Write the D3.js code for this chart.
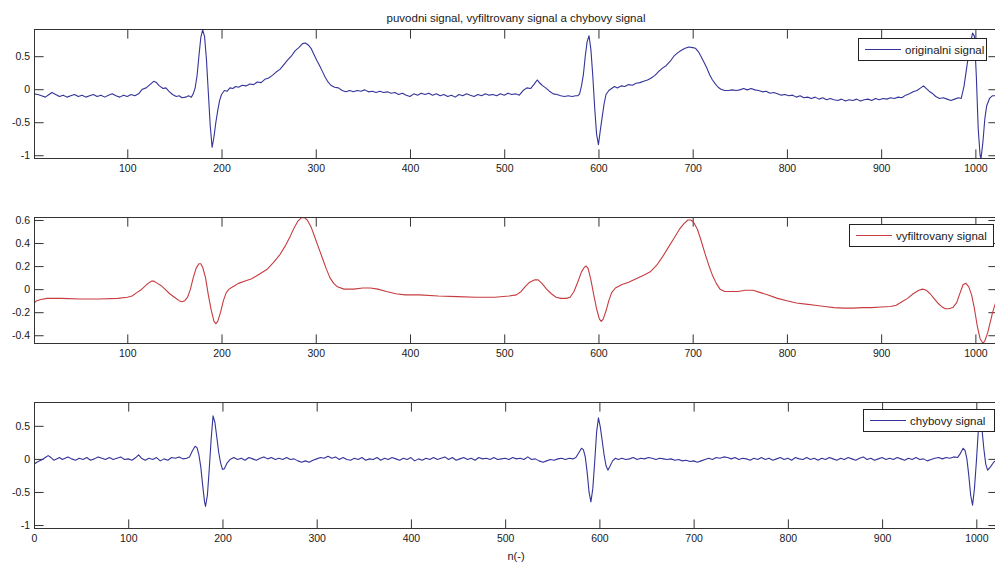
<!DOCTYPE html>
<html><head><meta charset="utf-8">
<script src="https://cdn.jsdelivr.net/npm/d3@7"></script>
<style>
body{margin:0;background:#fff}
svg{display:block}
text{font-family:Arial,"Liberation Sans",Helvetica,sans-serif;fill:#1a1a1a}
</style>
</head><body>
<svg id="chart" width="995" height="563"></svg>
<script>
// ---------------- data ----------------
const titleText = "puvodni signal, vyfiltrovany signal a chybovy signal";
const xLabelText = "n(-)";
const legendLabels = ["originalni signal", "vyfiltrovany signal", "chybovy signal"];
const xTicks = [100,200,300,400,500,600,700,800,900,1000];
const xTicksBottom = [0,100,200,300,400,500,600,700,800,900,1000];
const yTicksTop = [-1,-0.5,0,0.5];
const yTicksMid = [-0.4,-0.2,0,0.2,0.4,0.6];
const yTicksBot = [-1,-0.5,0,0.5];
const xLimTop = [1,1024];
const xLimBot = [0,1023];
const yLimTop = [-1.057,0.912];
const yLimMid = [-0.476,0.626];
const yLimBot = [-1.06,0.86];

// original signal (n, value)
const origN = [1,5,9,13,17,20,24,28,32,36,40,44,48,52,56,60,64,68,72,76,80,84,88,92,96,100,104,108,112,116,120,124,128,131,134,138,141,144,148,152,155,158,162,165,168,170,172,174,176,178,180,182,184,186,188,190,192,194,196,198,200,203,206,209,212,215,218,222,226,230,234,238,242,246,250,254,258,262,266,270,274,278,282,286,289,292,295,298,301,304,307,310,313,316,320,324,328,332,336,340,344,348,352,356,360,364,368,372,376,380,384,388,392,396,400,404,408,412,416,420,424,428,432,436,440,444,448,452,456,460,464,468,472,476,480,484,488,492,496,500,504,508,512,516,520,524,528,532,535,538,541,544,548,552,556,560,564,568,572,576,578,580,582,584,586,588,590,592,594,596,598,600,602,604,606,608,611,614,617,620,624,628,632,636,640,644,648,652,656,660,664,668,672,676,680,684,688,692,696,700,703,706,709,712,715,718,721,724,727,730,734,738,742,746,750,754,758,762,766,770,774,778,782,786,790,794,798,802,806,810,814,818,822,826,830,834,838,842,846,850,854,858,862,866,870,874,878,882,886,890,894,898,902,906,910,914,918,922,926,930,934,938,942,945,948,951,954,958,962,966,970,974,978,982,985,988,991,994,997,999,1001,1003,1005,1006,1008,1010,1012,1015,1018,1024];
const origV = [-0.07,-0.08,-0.10,-0.12,-0.08,-0.05,-0.08,-0.11,-0.09,-0.12,-0.10,-0.08,-0.11,-0.09,-0.12,-0.10,-0.08,-0.11,-0.09,-0.12,-0.09,-0.07,-0.10,-0.12,-0.09,-0.11,-0.08,-0.10,-0.07,0.00,0.02,0.07,0.12,0.10,0.05,0.01,0.02,-0.03,-0.08,-0.11,-0.10,-0.13,-0.12,-0.10,-0.12,-0.07,0.02,0.20,0.50,0.78,0.90,0.80,0.45,-0.05,-0.55,-0.88,-0.72,-0.50,-0.32,-0.17,-0.08,-0.02,-0.03,0.02,0.01,0.04,0.03,0.06,0.05,0.08,0.07,0.11,0.10,0.15,0.17,0.21,0.26,0.30,0.37,0.44,0.50,0.58,0.63,0.69,0.70,0.67,0.62,0.53,0.44,0.36,0.27,0.18,0.11,0.06,0.03,0.02,-0.02,-0.04,-0.02,-0.04,-0.02,-0.03,-0.01,-0.04,-0.03,-0.05,-0.03,-0.05,-0.04,-0.06,-0.05,-0.08,-0.06,-0.09,-0.11,-0.07,-0.09,-0.06,-0.08,-0.06,-0.09,-0.07,-0.10,-0.08,-0.11,-0.09,-0.12,-0.08,-0.10,-0.07,-0.09,-0.11,-0.08,-0.10,-0.07,-0.09,-0.08,-0.10,-0.07,-0.09,-0.06,-0.08,-0.07,-0.09,-0.02,0.02,0.01,0.08,0.14,0.09,0.05,0.02,-0.03,-0.07,-0.08,-0.10,-0.11,-0.10,-0.11,-0.10,-0.10,-0.07,0.05,0.22,0.50,0.72,0.81,0.60,0.20,-0.28,-0.68,-0.84,-0.62,-0.42,-0.22,-0.08,-0.02,0.01,0.04,0.02,0.05,0.04,0.07,0.06,0.09,0.10,0.12,0.14,0.17,0.21,0.27,0.32,0.36,0.42,0.50,0.55,0.59,0.62,0.64,0.63,0.62,0.57,0.49,0.41,0.32,0.22,0.14,0.08,0.03,0.00,-0.02,-0.02,-0.01,-0.02,-0.01,0.01,-0.01,0.01,-0.01,-0.02,-0.04,-0.03,-0.06,-0.05,-0.07,-0.09,-0.08,-0.10,-0.09,-0.12,-0.10,-0.13,-0.12,-0.14,-0.12,-0.15,-0.13,-0.16,-0.14,-0.16,-0.17,-0.15,-0.18,-0.16,-0.17,-0.15,-0.18,-0.16,-0.15,-0.17,-0.14,-0.16,-0.14,-0.15,-0.13,-0.14,-0.12,-0.13,-0.09,-0.07,-0.04,-0.02,0.02,0.05,0.01,-0.03,-0.06,-0.11,-0.14,-0.13,-0.15,-0.17,-0.15,-0.13,-0.14,0.05,0.35,0.65,0.85,0.80,0.20,-0.60,-1.00,-1.05,-0.80,-0.45,-0.25,-0.14,-0.10,-0.10];

// filtered signal
const filtN = [1,4,8,15,30,50,70,90,100,105,110,114,118,122,126,128,132,136,140,145,150,155,158,161,164,167,170,173,176,178,180,183,186,189,192,194,196,199,202,205,208,212,218,225,232,240,248,255,262,268,273,277,281,285,288,291,295,299,303,307,311,315,319,323,330,340,350,358,366,375,385,395,410,430,450,470,490,505,513,518,522,527,532,536,540,545,550,555,560,566,570,574,578,582,585,587,589,592,595,598,601,603,605,608,611,614,618,625,632,640,648,655,662,668,674,680,686,691,695,698,701,705,709,713,717,721,725,729,734,740,748,756,764,772,780,790,800,810,820,830,840,850,860,870,880,890,900,910,916,922,928,934,940,944,948,952,956,960,964,968,972,976,980,983,987,990,993,996,999,1002,1005,1008,1010,1013,1016,1018,1021,1024];
const filtV = [-0.12,-0.10,-0.09,-0.08,-0.08,-0.085,-0.085,-0.08,-0.07,-0.06,-0.03,-0.01,0.02,0.05,0.07,0.07,0.05,0.03,0.00,-0.04,-0.07,-0.10,-0.11,-0.10,-0.07,0.00,0.10,0.18,0.22,0.22,0.19,0.10,-0.05,-0.18,-0.28,-0.30,-0.28,-0.20,-0.10,-0.03,0.00,0.02,0.05,0.07,0.09,0.13,0.17,0.23,0.30,0.38,0.46,0.53,0.59,0.62,0.62,0.60,0.54,0.45,0.36,0.27,0.18,0.10,0.05,0.02,0.00,0.00,0.01,0.01,0.00,-0.02,-0.04,-0.05,-0.05,-0.06,-0.065,-0.07,-0.07,-0.06,-0.05,-0.02,0.02,0.06,0.08,0.08,0.05,0.00,-0.04,-0.07,-0.08,-0.08,-0.07,-0.02,0.06,0.15,0.19,0.20,0.18,0.08,-0.05,-0.17,-0.26,-0.28,-0.26,-0.19,-0.10,-0.03,0.01,0.04,0.06,0.09,0.12,0.15,0.21,0.28,0.36,0.44,0.52,0.57,0.60,0.60,0.58,0.52,0.42,0.31,0.21,0.12,0.05,0.00,-0.02,-0.02,-0.02,-0.01,-0.01,-0.03,-0.05,-0.08,-0.10,-0.12,-0.13,-0.14,-0.15,-0.16,-0.165,-0.165,-0.16,-0.16,-0.155,-0.15,-0.14,-0.11,-0.08,-0.04,-0.01,0.00,-0.01,-0.04,-0.08,-0.12,-0.15,-0.17,-0.17,-0.16,-0.12,-0.05,0.04,0.05,0.02,-0.05,-0.17,-0.32,-0.43,-0.47,-0.45,-0.38,-0.28,-0.21,-0.13,-0.07];

// error signal
const errN = [0,3,6,9,12,15,18,21,24,27,30,33,36,40,44,48,52,56,60,64,68,72,76,80,84,88,92,96,100,104,108,111,114,118,122,126,130,134,138,142,146,150,154,158,162,165,168,171,173,175,177,179,181,182,184,186,188,190,192,194,196,198,200,202,205,208,212,216,220,224,228,232,236,240,244,248,252,256,260,264,268,272,276,280,284,288,292,296,300,304,308,312,316,320,324,328,332,336,340,344,348,352,356,360,364,368,372,376,380,384,388,392,396,400,404,408,412,416,420,424,428,432,436,440,444,448,452,456,460,464,468,472,476,480,484,488,492,496,500,504,508,512,516,520,524,528,532,536,540,544,548,552,556,560,564,568,572,575,578,581,583,585,587,589,591,593,595,597,599,601,603,605,607,609,611,614,617,620,624,628,632,636,640,644,648,652,656,660,664,668,672,676,680,684,688,692,696,700,704,708,712,716,720,724,728,732,736,740,744,748,752,756,760,764,768,772,776,780,784,788,792,796,800,804,808,812,816,820,824,828,832,836,840,844,848,852,856,860,864,868,872,876,880,884,888,892,896,900,904,908,912,916,920,924,928,932,936,940,944,948,952,956,960,964,968,972,976,980,983,986,988,990,992,994,996,998,1000,1002,1004,1006,1008,1010,1012,1015,1019,1023];
const errV = [-0.08,-0.05,-0.03,-0.01,0.02,0.05,0.02,-0.02,0.00,0.02,-0.01,0.01,0.03,0.00,-0.02,0.01,-0.01,0.02,-0.02,0.00,0.03,0.01,-0.01,0.02,-0.01,0.01,0.03,-0.01,0.00,-0.02,0.02,0.06,0.01,-0.02,0.01,-0.01,0.02,-0.03,0.00,-0.02,0.02,0.01,0.03,0.00,0.01,0.03,0.12,0.19,0.17,0.06,-0.12,-0.40,-0.65,-0.72,-0.55,-0.15,0.30,0.65,0.55,0.33,0.10,-0.06,-0.16,-0.15,-0.06,-0.01,0.02,-0.01,0.01,-0.02,0.02,0.00,-0.02,0.01,0.03,0.00,0.02,-0.01,0.01,-0.01,0.02,-0.01,0.00,-0.03,-0.05,-0.03,-0.05,-0.02,0.00,0.02,0.01,0.04,0.01,0.03,-0.01,0.02,-0.01,-0.02,0.01,-0.01,0.02,-0.02,0.00,-0.01,0.02,-0.02,0.01,-0.01,0.02,0.00,-0.02,0.01,-0.01,0.02,-0.03,0.00,-0.02,0.01,-0.01,0.02,-0.01,0.01,0.03,-0.01,0.02,-0.02,0.00,0.02,-0.01,0.01,-0.02,0.02,0.00,0.01,-0.01,0.02,-0.01,0.00,0.01,-0.01,0.02,0.00,0.01,-0.01,0.03,-0.01,0.00,-0.03,-0.05,-0.03,-0.01,-0.02,0.00,0.01,-0.01,0.01,0.00,0.02,0.09,0.16,0.14,0.03,-0.20,-0.50,-0.65,-0.45,-0.05,0.40,0.62,0.48,0.27,0.06,-0.10,-0.17,-0.12,-0.03,0.01,-0.01,0.01,-0.01,0.00,0.02,-0.01,0.01,0.00,0.02,0.01,-0.01,0.01,0.00,-0.01,0.00,-0.02,-0.01,-0.03,-0.02,-0.04,-0.03,-0.05,-0.03,-0.01,0.01,-0.01,0.02,0.01,0.03,0.02,0.00,0.02,-0.01,0.01,0.00,-0.02,0.01,-0.01,0.02,-0.01,0.01,-0.02,0.00,0.02,-0.01,0.01,-0.02,0.02,0.00,-0.01,0.02,-0.01,0.01,-0.02,0.01,-0.01,0.02,0.00,-0.02,0.01,-0.01,0.02,0.00,-0.02,0.01,0.03,-0.01,0.01,-0.02,0.00,0.02,-0.01,0.01,-0.01,0.02,0.00,-0.02,0.01,-0.01,0.02,-0.01,0.00,-0.03,-0.01,0.01,0.02,0.00,0.02,0.01,0.03,0.02,0.08,0.16,0.13,0.00,-0.25,-0.55,-0.70,-0.45,-0.05,0.40,0.65,0.45,0.15,-0.08,-0.17,-0.12,-0.04,-0.03];

// ---------------- drawing ----------------
const svg = d3.select("#chart");
const W = 995, H = 563;
svg.append("rect").attr("width", W).attr("height", H).attr("fill", "#fff");

const left = 34, right = 998, tickLen = 9.6;
const frameColor = "#333";
const blue = "#34349a", red = "#c63c40";

const panels = [
  {top: 29, bottom: 159, xLim: xLimTop, yLim: yLimTop, xt: xTicks, yt: yTicksTop, N: origN, V: origV, color: blue,
   label: legendLabels[0], leg: {x: 858, y: 38, w: 128, h: 22}},
  {top: 217, bottom: 344, xLim: xLimTop, yLim: yLimMid, xt: xTicks, yt: yTicksMid, N: filtN, V: filtV, color: red,
   label: legendLabels[1], leg: {x: 849, y: 224, w: 144, h: 22}},
  {top: 402, bottom: 529, xLim: xLimBot, yLim: yLimBot, xt: xTicksBottom, yt: yTicksBot, N: errN, V: errV, color: blue,
   label: legendLabels[2], leg: {x: 863, y: 409, w: 131, h: 22}}
];

const fmt = d => (d === 0 ? "0" : String(d));

panels.forEach((p, i) => {
  const x = d3.scaleLinear().domain(p.xLim).range([left, right]);
  const y = d3.scaleLinear().domain(p.yLim).range([p.bottom, p.top]);
  const g = svg.append("g");

  g.append("defs").append("clipPath").attr("id", "clip" + i)
    .append("rect").attr("x", left).attr("y", p.top).attr("width", right - left).attr("height", p.bottom - p.top);

  // axes with inward ticks
  const axB = g.append("g").attr("transform", `translate(0,${p.bottom})`)
    .call(d3.axisBottom(x).tickValues(p.xt).tickSize(-tickLen).tickPadding(6).tickFormat(fmt));
  const axT = g.append("g").attr("transform", `translate(0,${p.top})`)
    .call(d3.axisTop(x).tickValues(p.xt).tickSize(-tickLen).tickFormat(""));
  const axL = g.append("g").attr("transform", `translate(${left},0)`)
    .call(d3.axisLeft(y).tickValues(p.yt).tickSize(-tickLen).tickPadding(4).tickFormat(fmt));
  const axR = g.append("g").attr("transform", `translate(${right},0)`)
    .call(d3.axisRight(y).tickValues(p.yt).tickSize(-tickLen).tickFormat(""));
  [axB, axT, axL, axR].forEach(a => {
    a.select(".domain").remove();
    a.selectAll("line").attr("stroke", frameColor).attr("stroke-width", 1);
    a.selectAll("text").attr("fill", "#1a1a1a").style("font-size", "10.5px")
      .style("font-family", "Arial,'Liberation Sans',sans-serif");
  });

  // line
  const pts = p.N.map((n, k) => [n, p.V[k]]);
  g.append("path").datum(pts)
    .attr("clip-path", `url(#clip${i})`)
    .attr("fill", "none").attr("stroke", p.color).attr("stroke-width", 1.1)
    .attr("stroke-linejoin", "round")
    .attr("d", d3.line().x(d => x(d[0])).y(d => y(d[1])));

  // frame
  g.append("rect").attr("x", left + 0.5).attr("y", p.top + 0.5)
    .attr("width", right - left - 1).attr("height", p.bottom - p.top - 1)
    .attr("fill", "none").attr("stroke", frameColor).attr("stroke-width", 1);

  // legend
  const L = p.leg;
  const lg = g.append("g");
  lg.append("rect").attr("x", L.x + 0.5).attr("y", L.y + 0.5).attr("width", L.w).attr("height", L.h)
    .attr("fill", "#fff").attr("stroke", "#222").attr("stroke-width", 1);
  lg.append("line").attr("x1", L.x + 7).attr("x2", L.x + 43)
    .attr("y1", L.y + L.h / 2 + 0.5).attr("y2", L.y + L.h / 2 + 0.5)
    .attr("stroke", p.color).attr("stroke-width", 1.1);
  lg.append("text").attr("x", L.x + 47).attr("y", L.y + L.h / 2 + 4.5)
    .style("font-size", "11.5px").text(p.label);
});

// title and x label
svg.append("text").attr("x", (left + right) / 2).attr("y", 21.5).attr("text-anchor", "middle")
  .style("font-size", "11.5px").text(titleText);
svg.append("text").attr("x", (left + right) / 2).attr("y", 560).attr("text-anchor", "middle")
  .style("font-size", "11px").text(xLabelText);
</script>
</body></html>
